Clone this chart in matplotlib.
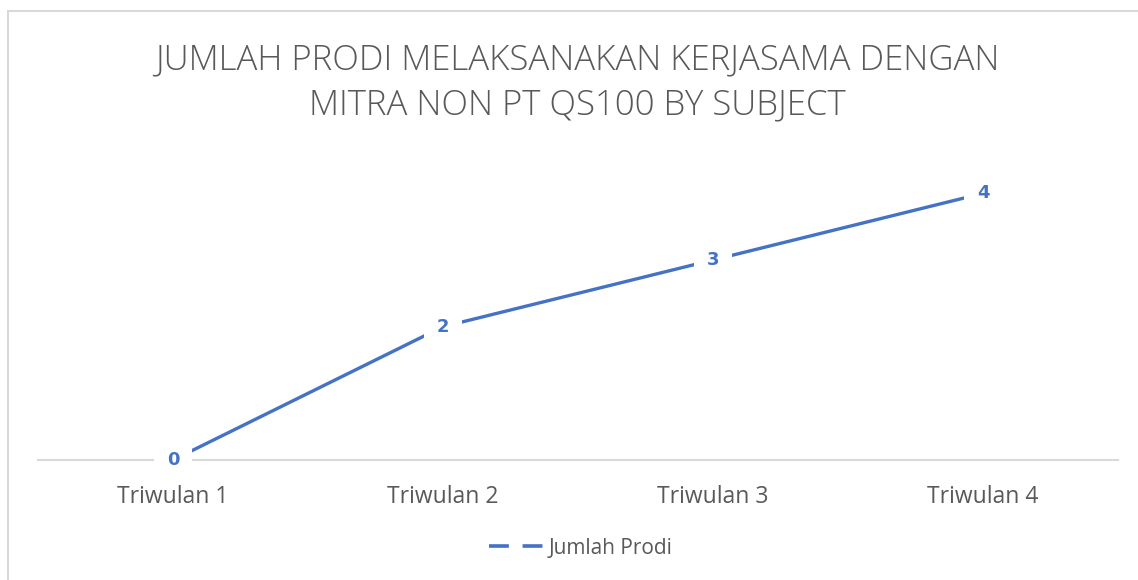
import matplotlib.pyplot as plt
from matplotlib.lines import Line2D
from matplotlib.patches import Rectangle

# Data
quarters = ["Triwulan 1", "Triwulan 2", "Triwulan 3", "Triwulan 4"]
jumlah_prodi = [0, 2, 3, 4]

blue = "#4472C4"
grey_text = "#595959"
grey_line = "#D9D9D9"

plt.rcParams["font.family"] = ["Open Sans", "DejaVu Sans"]

fig = plt.figure(figsize=(11.38, 5.8), dpi=100)

# chart frame (only left/top visible in the picture)
fig.patches.append(Rectangle((8 / 1138, -0.1), 1.2, (580 - 11) / 580 + 0.1,
                             transform=fig.transFigure, fill=False,
                             edgecolor=grey_line, linewidth=1.5))

ax = fig.add_axes([38 / 1138, 1 - 460 / 580, 1080 / 1138, 300 / 580])

x = range(len(quarters))
ax.plot(x, jumlah_prodi, color=blue, linewidth=2.4, solid_capstyle="butt")

# data labels sit on top of the points with a white box
for xi, v in zip(x, jumlah_prodi):
    ax.text(xi, v, str(v), ha="center", va="center", color=blue,
            fontsize=13, fontweight="bold", family="DejaVu Sans",
            bbox=dict(facecolor="white", edgecolor="none", pad=9))

ax.set_xlim(-0.5, 3.5)
ax.set_ylim(0, 4.5)
ax.set_xticks(list(x))
ax.set_xticklabels(quarters, fontsize=16.5, color=grey_text)
ax.tick_params(axis="x", length=0, pad=18)
ax.set_yticks([])
for side in ["top", "right", "left"]:
    ax.spines[side].set_visible(False)
ax.spines["bottom"].set_color(grey_line)
ax.spines["bottom"].set_linewidth(1.5)
ax.spines["bottom"].set_zorder(0)

fig.text(0.507, 1 - 83 / 580,
         "JUMLAH PRODI MELAKSANAKAN KERJASAMA DENGAN\nMITRA NON PT QS100 BY SUBJECT",
         ha="center", va="center", fontsize=25, color=grey_text,
         linespacing=1.4, fontweight="light")

handle = Line2D([], [], color=blue, linewidth=2.6, linestyle=(0, (5.5, 3.8)))
fig.legend([handle], ["Jumlah Prodi"], loc="center",
           bbox_to_anchor=(0.51, 1 - 548 / 580), frameon=False,
           fontsize=15, labelcolor=grey_text, handlelength=2.7,
           handletextpad=0.15)

fig.savefig("out.png", dpi=100, facecolor="white")
